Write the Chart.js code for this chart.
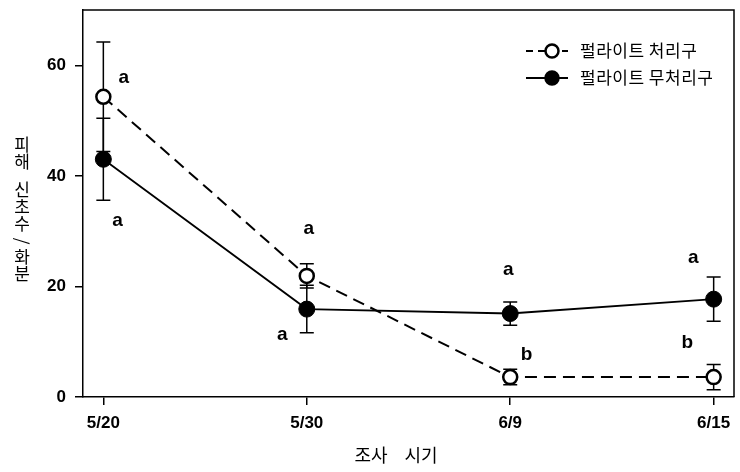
<!DOCTYPE html>
<html>
<head>
<meta charset="utf-8">
<script src="https://cdn.jsdelivr.net/npm/chart.js@4.4.1/dist/chart.umd.min.js"></script>
<style>
html,body{margin:0;padding:0;background:#fff;}
#wrap{width:740px;height:472px;position:relative;}
</style>
</head>
<body>
<div id="wrap"><canvas id="c" width="740" height="472"></canvas></div>
<script>
// ---- data ----
const categories = ['5/20', '5/30', '6/9', '6/15'];
const treatedName = '펄라이트 처리구';
const treatedMean = [54.3, 21.9, 3.6, 3.6];
const treatedErr  = [9.9, 2.2, 1.4, 2.3];
const untreatedName = '펄라이트 무처리구';
const untreatedMean = [43.0, 15.9, 15.1, 17.7];
const untreatedErr  = [7.4, 4.3, 2.1, 4.0];
const yTicks = [0, 20, 40, 60];
const yTitle = '피해 신초수/화분';
const xTitleWords = ['조사', '시기'];
// significance letters: [text, x (category units), y (value units)]
const letterText = ['a', 'a', 'a', 'a', 'a', 'b', 'a', 'b'];
const letterX    = [0.10, 0.07, 1.01, 0.88, 1.99, 2.08, 2.90, 2.87];
const letterY    = [57.8, 31.8, 30.4, 11.2, 23.0, 7.6, 25.1, 9.8];

const FONT = "'Liberation Sans', Arial, sans-serif";
const KFONT = "'Noto Sans CJK KR', 'Noto Sans', sans-serif";

const toPts = arr => arr.map((v, i) => ({x: i, y: v}));

const extras = {
  id: 'extras',
  beforeDatasetsDraw(chart) {
    const ctx = chart.ctx, xs = chart.scales.x, ys = chart.scales.y;
    ctx.save();
    ctx.strokeStyle = '#000';
    ctx.lineWidth = 1.5;
    const bars = (means, errs) => {
      means.forEach((m, i) => {
        const px = xs.getPixelForValue(i);
        const t = ys.getPixelForValue(m + errs[i]);
        const b = ys.getPixelForValue(m - errs[i]);
        ctx.beginPath();
        ctx.moveTo(px, t); ctx.lineTo(px, b);
        ctx.moveTo(px - 7, t); ctx.lineTo(px + 7, t);
        ctx.moveTo(px - 7, b); ctx.lineTo(px + 7, b);
        ctx.stroke();
      });
    };
    bars(untreatedMean, untreatedErr);
    bars(treatedMean, treatedErr);
    ctx.restore();
  },
  afterDraw(chart) {
    const ctx = chart.ctx, a = chart.chartArea, xs = chart.scales.x, ys = chart.scales.y;
    ctx.save();
    // frame top/right
    ctx.strokeStyle = '#000';
    ctx.lineWidth = 1.5;
    ctx.beginPath();
    ctx.moveTo(a.left, a.top); ctx.lineTo(a.right, a.top); ctx.lineTo(a.right, a.bottom);
    ctx.stroke();
    // letters
    ctx.fillStyle = '#000';
    ctx.font = 'bold 19px ' + FONT;
    ctx.textAlign = 'center';
    ctx.textBaseline = 'middle';
    letterText.forEach((t, i) => {
      ctx.fillText(t, xs.getPixelForValue(letterX[i]), ys.getPixelForValue(letterY[i]));
    });
    // x title
    ctx.font = '18px ' + KFONT;
    ctx.fillText(xTitleWords[0], 371, 455);
    ctx.fillText(xTitleWords[1], 421, 455);
    // y title stacked
    ctx.font = '17px ' + KFONT;
    const chars = Array.from(yTitle);
    let y = 145;
    chars.forEach(ch => {
      if (ch === ' ') { y += 11; return; }
      if (ch === '/') {
        ctx.save();
        ctx.translate(22, y);
        ctx.rotate(Math.PI / 2);
        ctx.fillText('/', 0, 0);
        ctx.restore();
        y += 16;
        return;
      }
      ctx.fillText(ch, 22, y);
      y += 17;
    });
    // legend
    const rows = [
      {name: treatedName, dash: [7, 5], fill: '#fff', y: 51},
      {name: untreatedName, dash: [], fill: '#000', y: 78}
    ];
    rows.forEach(r => {
      ctx.setLineDash(r.dash);
      ctx.lineWidth = 2;
      ctx.beginPath();
      ctx.moveTo(526, r.y); ctx.lineTo(568, r.y);
      ctx.stroke();
      ctx.setLineDash([]);
      ctx.beginPath();
      ctx.arc(552, r.y, 6.5, 0, Math.PI * 2);
      ctx.fillStyle = r.fill;
      ctx.fill();
      ctx.lineWidth = 2.5;
      ctx.stroke();
      ctx.fillStyle = '#000';
      ctx.textAlign = 'left';
      ctx.font = '17px ' + KFONT;
      ctx.letterSpacing = '0.5px';
      ctx.fillText(r.name, 580, r.y);
      ctx.letterSpacing = '0px';
    });
    ctx.restore();
  }
};

new Chart(document.getElementById('c'), {
  type: 'line',
  data: {
    datasets: [
      {
        label: untreatedName,
        data: toPts(untreatedMean),
        borderColor: '#000', borderWidth: 1.8,
        pointRadius: 8, pointBackgroundColor: '#000', pointBorderColor: '#000', pointBorderWidth: 1,
        pointHoverRadius: 8
      },
      {
        label: treatedName,
        data: toPts(treatedMean),
        borderColor: '#000', borderWidth: 2, borderDash: [12, 7],
        pointRadius: 7, pointBackgroundColor: '#fff', pointBorderColor: '#000', pointBorderWidth: 2.5,
        pointHoverRadius: 7
      }
    ]
  },
  options: {
    responsive: false,
    animation: false,
    events: [],
    layout: {autoPadding: false, padding: {left: 0, top: 10, right: 6, bottom: 0}},
    plugins: {legend: {display: false}, tooltip: {enabled: false}},
    scales: {
      x: {
        type: 'linear', min: -0.1, max: 3.1,
        afterBuildTicks: s => { s.ticks = categories.map((_, i) => ({value: i})); },
        afterFit: s => { s.height = 75; s.paddingLeft = 0; s.paddingRight = 0; },
        ticks: {
          callback: v => categories[v], color: '#000', padding: 8,
          font: {family: FONT, size: 17, weight: 'bold'}, maxRotation: 0
        },
        grid: {display: true, drawOnChartArea: false, drawTicks: true, tickLength: 8, color: '#000', lineWidth: 1.5},
        border: {display: true, color: '#000', width: 1.5}
      },
      y: {
        min: 0, max: 70,
        afterBuildTicks: s => { s.ticks = yTicks.map(v => ({value: v})); },
        afterFit: s => { s.width = 83; s.paddingTop = 0; s.paddingBottom = 0; },
        ticks: {color: '#000', padding: 9, font: {family: FONT, size: 17, weight: 'bold'}},
        grid: {display: true, drawOnChartArea: false, drawTicks: true, tickLength: 8, color: '#000', lineWidth: 1.5},
        border: {display: true, color: '#000', width: 1.5}
      }
    }
  },
  plugins: [extras]
});
</script>
</body>
</html>
